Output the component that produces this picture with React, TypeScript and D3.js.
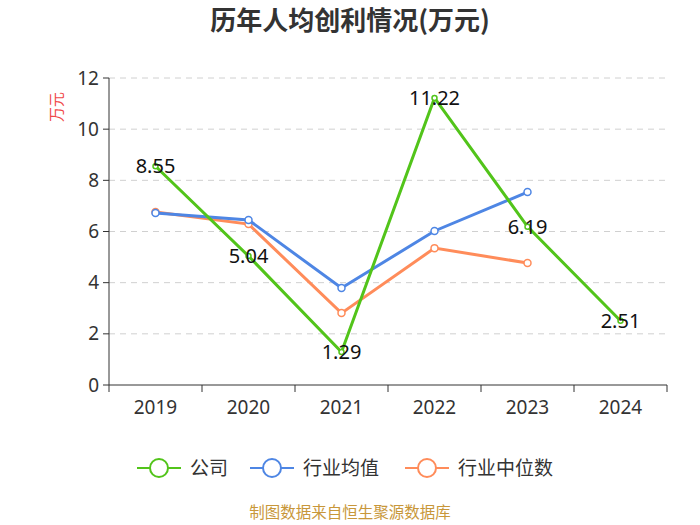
import * as d3 from "d3";

const years = ["2019", "2020", "2021", "2022", "2023", "2024"];
const company = [8.55, 5.04, 1.29, 11.22, 6.19, 2.51];
const industryAvg = [6.72, 6.45, 3.79, 6.02, 7.54];
const industryMedian = [6.76, 6.29, 2.81, 5.35, 4.77];
const yTicks = [0, 2, 4, 6, 8, 10, 12];

const W = 700;
const H = 525;
const margin = { top: 78, right: 33, bottom: 140, left: 109 };
const font = "'Noto Sans', 'Noto Sans CJK SC', sans-serif";
const cjk = "'Noto Sans CJK SC', sans-serif";

const series = [
  { name: "公司", color: "#52c41a", values: company, labels: true },
  { name: "行业均值", color: "#4e86e4", values: industryAvg, labels: false },
  { name: "行业中位数", color: "#ff8c5a", values: industryMedian, labels: false },
];

export default function App() {
  const x = d3
    .scaleBand()
    .domain(years)
    .range([margin.left, W - margin.right]);
  const y = d3
    .scaleLinear()
    .domain([0, 12])
    .range([H - margin.bottom, margin.top]);
  const cx = (i: number) => (x(years[i]) ?? 0) + x.bandwidth() / 2;
  const line = d3
    .line<number>()
    .x((_, i) => cx(i))
    .y((d) => y(d));

  const legendX = [137, 250, 405];

  return (
    <svg width={W} height={H} style={{ position: "absolute", left: 0, top: 0 }} fontFamily={font}>
      <rect width={W} height={H} fill="#fff" />
      <text x={W / 2} y={21} dy="0.35em" textAnchor="middle" fontSize={26} fontWeight="bold" fill="#333" fontFamily={cjk}>
        历年人均创利情况(万元)
      </text>
      <text
        transform={`translate(57,107) rotate(-90)`}
        textAnchor="middle"
        dy="0.35em"
        fontSize={15}
        fill="#f04848"
        fontFamily={cjk}
      >
        万元
      </text>

      {yTicks.map((t) => (
        <g key={t}>
          {t > 0 && (
            <line
              x1={margin.left}
              x2={W - margin.right}
              y1={y(t)}
              y2={y(t)}
              stroke="#d0d0d0"
              strokeDasharray="6,5"
            />
          )}
          <line x1={margin.left - 6} x2={margin.left} y1={y(t)} y2={y(t)} stroke="#333" />
          <text x={margin.left - 10} y={y(t)} dy="0.35em" textAnchor="end" fontSize={19} fill="#333">
            {t}
          </text>
        </g>
      ))}
      <line x1={margin.left} x2={margin.left} y1={margin.top} y2={y(0)} stroke="#333" />
      <line x1={margin.left} x2={W - margin.right} y1={y(0)} y2={y(0)} stroke="#333" />
      {years.map((yr) => (
        <line
          key={"t" + yr}
          x1={x(yr) ?? 0}
          x2={x(yr) ?? 0}
          y1={y(0)}
          y2={y(0) + 7}
          stroke="#333"
        />
      ))}
      <line x1={W - margin.right} x2={W - margin.right} y1={y(0)} y2={y(0) + 7} stroke="#333" />
      {years.map((yr, i) => (
        <text key={yr} x={cx(i)} y={y(0) + 29} textAnchor="middle" fontSize={19} fill="#333">
          {yr}
        </text>
      ))}

      {[...series].reverse().map((s) => (
        <g key={s.name}>
          <path d={line(s.values) ?? ""} fill="none" stroke={s.color} strokeWidth={3} />
          {s.values.map((v, i) => (
            <circle
              key={i}
              cx={cx(i)}
              cy={y(v)}
              r={s.labels ? 2.5 : 3.5}
              fill="#fff"
              stroke={s.color}
              strokeWidth={1.5}
            />
          ))}
        </g>
      ))}
      {company.map((v, i) => (
        <text key={"l" + i} x={cx(i)} y={y(v)} dy="0.35em" textAnchor="middle" fontSize={20} fill="#111">
          {v.toFixed(2)}
        </text>
      ))}

      {series.map((s, i) => (
        <g key={"lg" + s.name} transform={`translate(${legendX[i]},468)`}>
          <line x1={0} x2={44} y1={0} y2={0} stroke={s.color} strokeWidth={2} />
          <circle cx={22} cy={0} r={9} fill="#fff" stroke={s.color} strokeWidth={2} />
          <text x={53} y={0} dy="0.35em" fontSize={19} fill="#333" fontFamily={cjk}>
            {s.name}
          </text>
        </g>
      ))}

      <text x={W / 2} y={513} dy="0.35em" textAnchor="middle" fontSize={15.5} fill="#c8973a" fontFamily={cjk}>
        制图数据来自恒生聚源数据库
      </text>
    </svg>
  );
}
